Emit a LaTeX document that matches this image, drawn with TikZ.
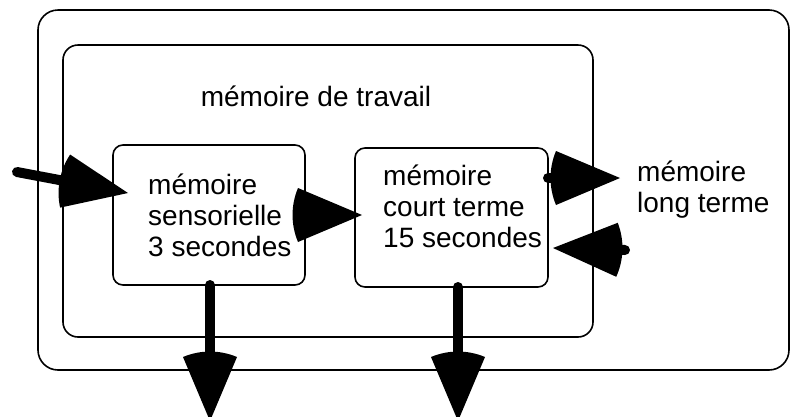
\documentclass[tikz,border=0pt]{standalone}
\usepackage{fontspec}
\setmainfont{Liberation Sans}
\usetikzlibrary{arrows.meta,calc}
\makeatletter
\pgfdeclarearrow{
  name = Fan,
  parameters = {\the\pgfarrowlength,\the\pgfarrowwidth},
  setup code = {
    \pgfarrowssettipend{0pt}
    \pgfarrowssetlineend{-0.5\pgfarrowlength}
    \pgfarrowssetbackend{-1.1\pgfarrowlength}
    \pgfarrowssetvisualbackend{-\pgfarrowlength}
    \pgfarrowssavethe\pgfarrowlength
    \pgfarrowssavethe\pgfarrowwidth
  },
  drawing code = {
    \pgfmathsetmacro\fanR{veclen(\pgfarrowlength,0.5*\pgfarrowwidth)}
    \pgfmathsetmacro\fanA{atan2(0.5*\pgfarrowwidth,\pgfarrowlength)}
    \pgfpathmoveto{\pgfpointorigin}
    \pgfpathlineto{\pgfpoint{-\pgfarrowlength}{0.5\pgfarrowwidth}}
    \pgfpatharc{180-\fanA}{180+\fanA}{\fanR pt}
    \pgfpathclose
    \pgfusepathqfill
  },
  defaults = {length=64pt, width=54pt}
}
\makeatother
\begin{document}
\begin{tikzpicture}[x=1pt,y=-1pt,
  frame/.style={draw, line width=1.6pt, inner sep=0pt, outer sep=0pt},
  lbl/.style={font=\fontsize{28}{31}\selectfont, inner sep=0pt, align=left},
  big/.style={line width=10pt, line cap=round, -{Fan}}]
\useasboundingbox (0,0) rectangle (792,416);
\fill[white] (0,0) rectangle (792,416);
% boxes
\node[frame, rounded corners=20pt, minimum width=751pt, minimum height=360pt] (outer) at (413.5,190) {};
\node[frame, rounded corners=15pt, minimum width=530pt, minimum height=292pt] (work) at (328,191) {};
\node[frame, rounded corners=10pt, minimum width=192pt, minimum height=140pt] (sens) at (209,215) {};
\node[frame, rounded corners=10pt, minimum width=193pt, minimum height=139pt] (court) at (451.5,217.5) {};
% texts (base anchor = last line's baseline)
\node[lbl, anchor=base] (worktxt) at (316,106) {mémoire de travail};
\node[lbl, anchor=base west] (senstxt) at (148,256) {mémoire\\sensorielle\\3 secondes};
\node[lbl, anchor=base west] (courttxt) at (383,247) {mémoire\\court terme\\15 secondes};
\node[lbl, anchor=base west] (lt) at (637,212) {mémoire\\long terme};
% connector ends
\coordinate (inp) at (17,172);
\coordinate (ltin) at (620,178);
\coordinate (ltout) at (625,250);
\coordinate (out1) at (210,421);
\coordinate (out2) at (458,421);
% arrows
\draw[big] (inp) -- ($(sens.west)+(15,-22)$);
\draw[big] (sens.east) -- ($(court.west)+(7,-2.5)$);
\draw[big] ($(court.east)+(0,-39.5)$) -- (ltin);
\draw[big] (ltout) -- ($(court.east)+(5,30.5)$);
\draw[big] (sens.south -| out1) -- (out1);
\draw[big] (court.south -| out2) -- (out2);
\end{tikzpicture}
\end{document}
